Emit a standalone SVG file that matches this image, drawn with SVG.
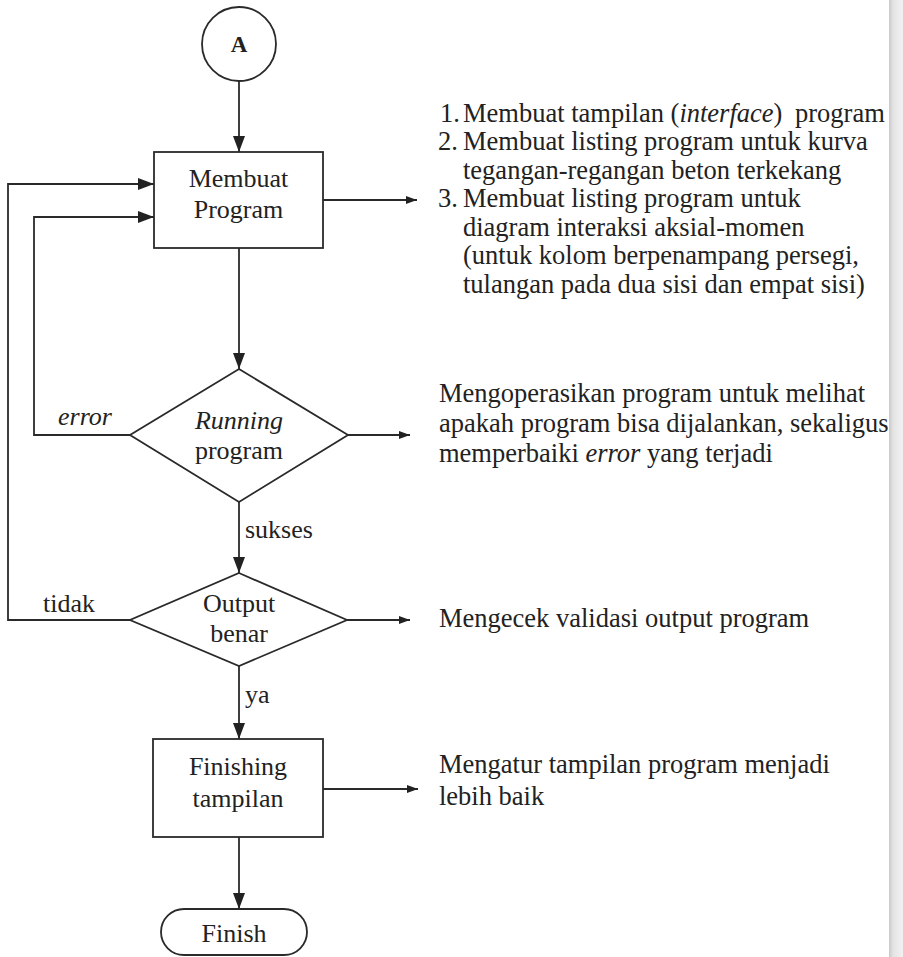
<svg xmlns="http://www.w3.org/2000/svg" width="903" height="957" viewBox="0 0 903 957">
<defs>
<style>
.s{fill:none;stroke:#2a2a2a;stroke-width:1.8}
.n{fill:#fff;stroke:#2a2a2a;stroke-width:1.8}
.c{text-anchor:middle}
.i{font-style:italic}
</style>
<marker id="big" markerUnits="userSpaceOnUse" markerWidth="17" markerHeight="14" refX="16" refY="7" orient="auto"><path d="M0,1 L16,7 L0,13 Z" fill="#222"/></marker>
<marker id="sm" markerUnits="userSpaceOnUse" markerWidth="12" markerHeight="10" refX="11" refY="5" orient="auto"><path d="M0,1 L11,5 L0,9 Z" fill="#222"/></marker>
<linearGradient id="edge" x1="0" y1="0" x2="1" y2="0"><stop offset="0" stop-color="#c9c9c9"/><stop offset="0.3" stop-color="#e4e4e4"/><stop offset="1" stop-color="#f2f2f2"/></linearGradient>
</defs>
<rect width="903" height="957" fill="#fff"/>
<rect x="889" y="0" width="14" height="957" fill="url(#edge)"/>
<g font-family="Liberation Serif, DejaVu Serif, serif" font-size="26" fill="#222">
<g id="connectors">
<path class="s" d="M239,81 V152" marker-end="url(#big)"/>
<path class="s" d="M323,200 H417" marker-end="url(#sm)"/>
<path class="s" d="M239,248 V369" marker-end="url(#big)"/>
<path class="s" d="M130,435 H34 V217 H154" marker-end="url(#big)"/>
<path class="s" d="M348,435 H410" marker-end="url(#sm)"/>
<path class="s" d="M239,502 V573" marker-end="url(#big)"/>
<path class="s" d="M130,620 H8 V184 H154" marker-end="url(#big)"/>
<path class="s" d="M347,620 H410" marker-end="url(#sm)"/>
<path class="s" d="M239,666 V739" marker-end="url(#big)"/>
<path class="s" d="M323,789 H418" marker-end="url(#sm)"/>
<path class="s" d="M239,837 V909" marker-end="url(#big)"/>
<text class="i" x="58" y="425">error</text>
<text x="245" y="538">sukses</text>
<text x="43" y="612">tidak</text>
<text x="245" y="703">ya</text>
</g>
<g id="nodeA">
<circle class="n" cx="239" cy="44" r="37"/>
<text class="c" x="239" y="52" font-weight="bold" font-size="23">A</text>
</g>
<g id="membuat">
<rect class="n" x="154" y="152" width="169" height="96"/>
<text class="c" x="238.5" y="187">Membuat</text>
<text class="c" x="238.5" y="218">Program</text>
</g>
<g id="running">
<path class="n" d="M239,369 L348,435 L239,502 L130,435 Z"/>
<text class="c i" x="239" y="429">Running</text>
<text class="c" x="239" y="459">program</text>
</g>
<g id="output">
<path class="n" d="M239,573 L347,620 L239,666 L130,620 Z"/>
<text class="c" x="239" y="612">Output</text>
<text class="c" x="239" y="642">benar</text>
</g>
<g id="finishing">
<rect class="n" x="153" y="739" width="170" height="98"/>
<text class="c" x="238" y="775">Finishing</text>
<text class="c" x="238" y="807">tampilan</text>
</g>
<g id="finish">
<rect class="n" x="161" y="909" width="146" height="46" rx="23"/>
<text class="c" x="234" y="942">Finish</text>
</g>
<g font-size="26.5">
<g id="note1">
<text x="440" y="122">1.</text><text x="463" y="122">Membuat tampilan (<tspan class="i">interface</tspan>)<tspan dx="6"> program</tspan></text>
<text x="438" y="150">2.</text><text x="463" y="150">Membuat listing program untuk kurva</text>
<text x="463" y="179">tegangan-regangan beton terkekang</text>
<text x="438" y="207">3.</text><text x="463" y="207">Membuat listing program untuk</text>
<text x="463" y="236">diagram interaksi aksial-momen</text>
<text x="463" y="264">(untuk kolom berpenampang persegi,</text>
<text x="463" y="293">tulangan pada dua sisi dan empat sisi)</text>
</g>
<g id="note2">
<text x="439" y="402">Mengoperasikan program untuk melihat</text>
<text x="439" y="432">apakah program bisa dijalankan, sekaligus</text>
<text x="439" y="462">memperbaiki <tspan class="i">error</tspan> yang terjadi</text>
</g>
<g id="note3">
<text x="439" y="627">Mengecek validasi output program</text>
</g>
<g id="note4">
<text x="439" y="773">Mengatur tampilan program menjadi</text>
<text x="439" y="805">lebih baik</text>
</g>
</g>
</g>
</svg>
